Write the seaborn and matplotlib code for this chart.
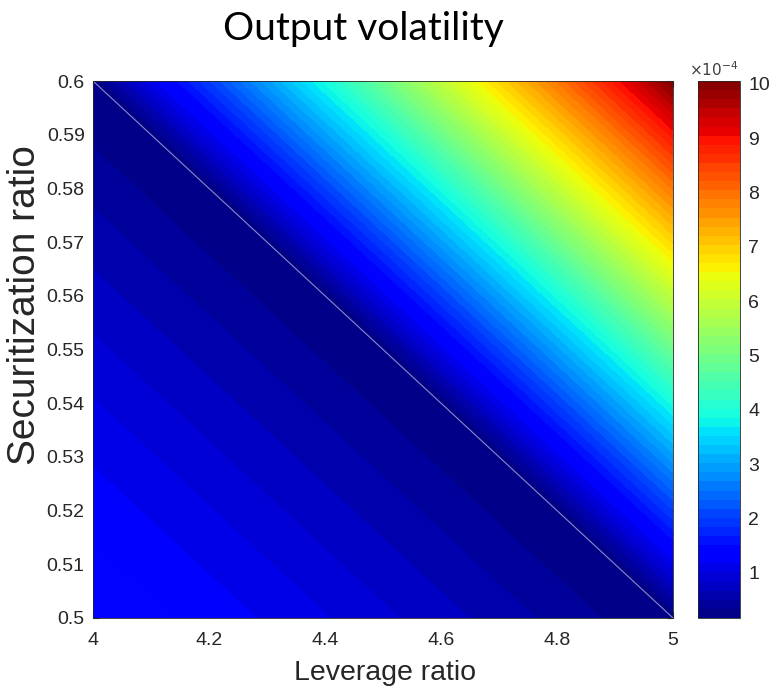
import numpy as np
import matplotlib
matplotlib.use("Agg")
import matplotlib.pyplot as plt
import seaborn as sns

# ---- data (values in units of 1e-4) ----
leverage = [4.0, 4.1, 4.2, 4.3, 4.4, 4.5, 4.6, 4.7, 4.8, 4.9, 5.0]
securitization = [0.50, 0.51, 0.52, 0.53, 0.54, 0.55, 0.56, 0.57, 0.58, 0.59, 0.60]
# volatility along the anti-diagonals (index = x index + y index)
diag_volatility = [1.50, 1.40, 1.28, 1.15, 1.02, 0.88, 0.74, 0.60, 0.45, 0.30,
                   0.17,
                   1.10, 2.00, 2.95, 3.90, 4.90, 5.90, 6.90, 7.90, 8.95, 10.05]
x_ticks = [4, 4.2, 4.4, 4.6, 4.8, 5]
x_tick_labels = ["4", "4.2", "4.4", "4.6", "4.8", "5"]
y_ticks = [0.50, 0.51, 0.52, 0.53, 0.54, 0.55, 0.56, 0.57, 0.58, 0.59, 0.60]
y_tick_labels = ["0.5", "0.51", "0.52", "0.53", "0.54", "0.55", "0.56", "0.57", "0.58", "0.59", "0.6"]
cbar_ticks = [1, 2, 3, 4, 5, 6, 7, 8, 9, 10]

sns.set_style("white")
plt.rcParams['font.family'] = ['Liberation Sans', 'DejaVu Sans']

Z = np.array([[diag_volatility[i + j] for j in range(len(leverage))]
              for i in range(len(securitization))])
X, Y = np.meshgrid(leverage, securitization)

fig = plt.figure(figsize=(7.71, 6.91), dpi=100)
ax = fig.add_axes([93/771, 1-618/691, (673-93)/771, (618-81)/691])
cax = fig.add_axes([698/771, 1-618/691, 42/771, (618-81)/691])

cmap = plt.get_cmap('jet')
levels = np.linspace(Z.min(), Z.max(), 60)
cf = ax.contourf(X, Y, Z, levels=levels, cmap=cmap)
# thin line through the minimum-volatility grid points
mask = np.isclose(Z, Z.min())
ax.plot(X[mask], Y[mask], color='#8a8ac8', linewidth=0.8)

ax.set_xlim(4, 5)
ax.set_ylim(0.5, 0.6)
ax.set_xticks(x_ticks)
ax.set_xticklabels(x_tick_labels)
ax.set_yticks(y_ticks)
ax.set_yticklabels(y_tick_labels)
ax.tick_params(direction='in', length=4, labelsize=14, colors='#262626',
               top=True, right=True, bottom=True, left=True)
ax.tick_params(axis='x', pad=10)
ax.tick_params(axis='y', pad=6)
for s in ax.spines.values():
    s.set_color('#262626')
    s.set_linewidth(0.6)

ax.set_xlabel("Leverage ratio", fontsize=20.5, color='#262626')
ax.xaxis.set_label_coords((385-93)/580, (618-673)/537)
ax.xaxis.label.set_va('center')
ax.set_ylabel("Securitization ratio", fontsize=28, color='#262626')
ax.yaxis.set_label_coords((25-93)/580, (618-305)/537)
ax.yaxis.label.set_va('center')

cb = fig.colorbar(cf, cax=cax, ticks=cbar_ticks)
cb.ax.tick_params(direction='in', length=4, labelsize=14, colors='#262626',
                  left=False, right=True, pad=6)
cb.outline.set_edgecolor('#262626')
cb.outline.set_linewidth(0.6)
cax.text(0.38, 1.004, r"$\times10^{-4}$", transform=cax.transAxes, ha='center',
         va='bottom', fontsize=11, color='#404040')

fig.text(363/771, 1-29/691, "Output volatility", ha='center', va='center',
         fontsize=28, family=['Lato', 'DejaVu Sans'], color='black')

fig.savefig("out.png", dpi=100)
